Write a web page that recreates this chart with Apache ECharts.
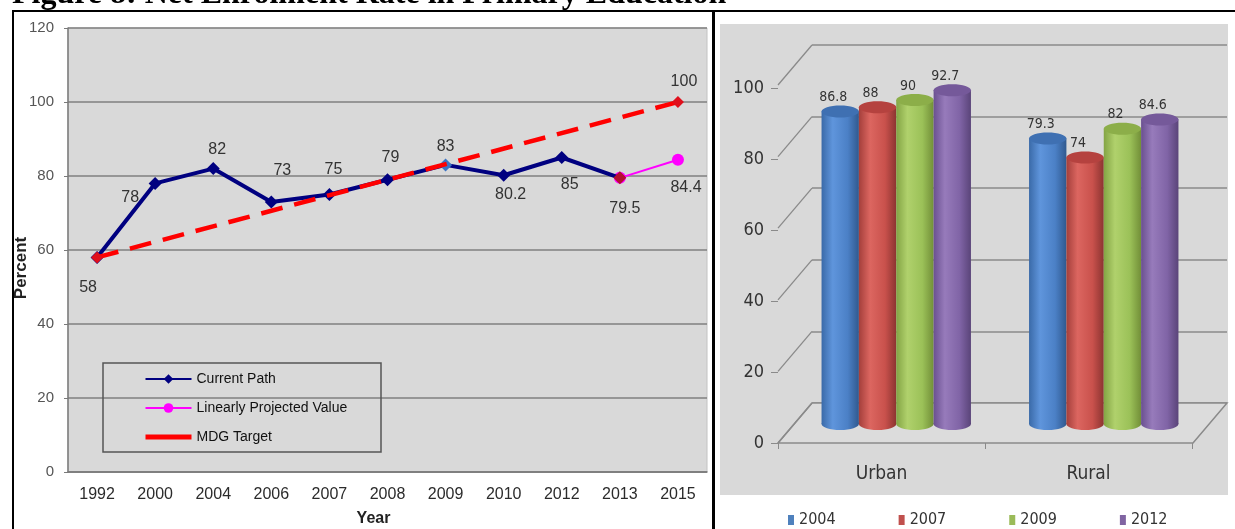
<!DOCTYPE html>
<html>
<head>
<meta charset="utf-8">
<script src="https://cdn.jsdelivr.net/npm/echarts@6/dist/echarts.min.js"></script>
<style>
  html, body { margin: 0; padding: 0; background: #fff; }
  #c { width: 1235px; height: 529px; }
</style>
</head>
<body>
<div id="c"></div>
<script>
// ---- Net enrolment rate, national path (left panel) ----
const years = ['1992', '2000', '2004', '2006', '2007', '2008', '2009', '2010', '2012', '2013', '2015'];
const currentPath = [58, 78, 82, 73, 75, 79, 83, 80.2, 85, 79.5, null];
const projectedValue = [null, null, null, null, null, null, null, null, null, 79.5, 84.4];
const mdgTarget = [58, null, null, null, null, null, null, null, null, null, 100];

// ---- Urban / rural net enrolment by survey year (right panel) ----
const areas = ['Urban', 'Rural'];
const surveyYears = ['2004', '2007', '2009', '2012'];
const rate2004 = [86.8, 79.3];
const rate2007 = [88, 74];
const rate2009 = [90, 82];
const rate2012 = [92.7, 84.6];
const wallTicks = [0, 20, 40, 60, 80, 100];

// ---- styling ----
const sans = '"Liberation Sans", Arial, sans-serif';
const narrow = '"Liberation Sans Narrow", "Arial Narrow", "DejaVu Sans Condensed", sans-serif';
const gridGray = '#8a8a8a';
const depth = [-34, 40];               // perspective shift from back wall to front edge

// label placement around each point of the current path (centre offset, px)
const pathLabelOffset = [[-9, 30], [-25, 14], [4, -19], [11, -31], [4, -25], [3, -22],
                         [0, -18], [7, 19], [8, 27], [5, 31], [0, 0]];
const pathMarkerColor = [null, null, null, null, null, null, '#3b74c4', null, null, '#b4102e', null];

const pathData = currentPath.map((v, i) => {
  const item = { value: v, label: { offset: pathLabelOffset[i] } };
  if (pathMarkerColor[i]) item.itemStyle = { color: pathMarkerColor[i] };
  return item;
});

const shades = [
  { base: '#4f81bd', stops: ['#3a6aa8', '#5f95dc', '#4b80c6', '#30598f'], top: '#3f70b2' },
  { base: '#c0504d', stops: ['#a43f3b', '#dc6660', '#c9514c', '#8c3431'], top: '#b5423f' },
  { base: '#9bbb59', stops: ['#83a444', '#b0d16c', '#9bc158', '#728f38'], top: '#8cae49' },
  { base: '#8064a2', stops: ['#6a5090', '#977bbb', '#8064a6', '#5a4479'], top: '#75599a' }
];

function cylinderSeries(name, values, slot) {
  const sh = shades[slot];
  return {
    type: 'custom',
    name: name,
    xAxisIndex: 3,
    yAxisIndex: 3,
    z: 5,
    color: sh.base,
    itemStyle: { color: sh.base },
    encode: { x: 0, y: 1 },
    data: values.map((v, i) => [i, v]),
    renderItem: function (params, api) {
      const cat = api.value(0);
      const val = api.value(1);
      const base = api.coord([cat, 0]);
      const top = api.coord([cat, val]);
      const band = api.size([1, 0])[0];
      const w = band * 0.18;
      const cx = base[0] + (slot - 1.5) * w;
      const rx = w / 2, ry = 6;
      const grad = new echarts.graphic.LinearGradient(0, 0, 1, 0, [
        { offset: 0, color: sh.stops[0] },
        { offset: 0.3, color: sh.stops[1] },
        { offset: 0.7, color: sh.stops[2] },
        { offset: 1, color: sh.stops[3] }
      ]);
      return {
        type: 'group',
        children: [
          { type: 'rect', shape: { x: cx - rx, y: top[1], width: w, height: base[1] - top[1] }, style: { fill: grad } },
          { type: 'ellipse', shape: { cx: cx, cy: base[1], rx: rx, ry: ry }, style: { fill: grad } },
          { type: 'ellipse', shape: { cx: cx, cy: top[1], rx: rx, ry: ry }, style: { fill: sh.top } },
          { type: 'text', style: { text: String(val), x: cx - 7, y: top[1] - 14, align: 'center', verticalAlign: 'middle',
              font: '14px ' + narrow, fill: '#333' } }
        ]
      };
    }
  };
}

const option = {
  animation: false,
  backgroundColor: '#fff',
  graphic: [
    // figure caption
    { type: 'text', z: 10, style: { text: 'Figure 8: Net Enrolment Rate in Primary Education', x: 12, y: 11,
        align: 'left', verticalAlign: 'bottom', font: 'bold 32px "Liberation Serif", "Times New Roman", serif', fill: '#000' } },
    // frame lines
    { type: 'rect', z: 10, shape: { x: 12, y: 10, width: 1223, height: 2 }, style: { fill: '#000' } },
    { type: 'rect', z: 10, shape: { x: 12, y: 10, width: 2, height: 519 }, style: { fill: '#000' } },
    { type: 'rect', z: 10, shape: { x: 712, y: 10, width: 3, height: 519 }, style: { fill: '#000' } },
    // right chart background
    { type: 'rect', z: -1, shape: { x: 720, y: 24, width: 508, height: 471 }, style: { fill: '#d9d9d9' } },
    // left legend frame
    { type: 'rect', z: 1, shape: { x: 103, y: 363, width: 278, height: 89 }, style: { fill: null, stroke: '#555', lineWidth: 1.5 } }
  ],
  legend: [
    {
      orient: 'vertical', left: 138, top: 367, itemWidth: 46, itemHeight: 12, itemGap: 15,
      textStyle: { fontSize: 14, fontFamily: sans, color: '#111' },
      data: ['Current Path', 'Linearly Projected Value',
             { name: 'MDG Target', lineStyle: { type: 'solid', width: 5 }, itemStyle: { opacity: 0 } }]
    },
    {
      left: 783, top: 507, icon: 'rect', itemWidth: 6, itemHeight: 10, itemGap: 63,
      textStyle: { fontSize: 16, fontFamily: narrow, color: '#333' },
      data: surveyYears
    }
  ],
  grid: [
    { left: 68, top: 28, width: 639, height: 444, show: true, backgroundColor: '#d9d9d9', borderColor: '#c2c2c2', borderWidth: 1, outerBoundsMode: 'none', containLabel: false },
    { left: 778, top: 88, width: 414, height: 355, outerBoundsMode: 'none', containLabel: false },
    { left: 812, top: 45, width: 415, height: 358, outerBoundsMode: 'none', containLabel: false },
    { left: 792.5, top: 64, width: 415, height: 360, outerBoundsMode: 'none', containLabel: false }
  ],
  xAxis: [
    {
      type: 'category', gridIndex: 0, data: years,
      name: 'Year', nameLocation: 'middle', nameGap: 39,
      nameTextStyle: { fontSize: 16, fontWeight: 'bold', fontFamily: sans, color: '#222', padding: [0, 28, 0, 0] },
      axisLine: { lineStyle: { color: '#7a7a7a', width: 1.5 } },
      axisTick: { length: 4, lineStyle: { color: '#7a7a7a' } },
      axisLabel: { fontSize: 16, fontFamily: sans, color: '#2b2b2b', margin: 15 }
    },
    {
      type: 'category', gridIndex: 1, data: areas,
      axisLine: { show: false },
      axisTick: { show: true, length: 6, lineStyle: { color: gridGray } },
      axisLabel: { fontSize: 19, fontFamily: narrow, color: '#333', margin: 22 }
    },
    { type: 'value', gridIndex: 2, min: 0, max: 1, show: false },
    { type: 'category', gridIndex: 3, data: areas, show: false }
  ],
  yAxis: [
    {
      type: 'value', gridIndex: 0, min: 0, max: 120, interval: 20,
      name: 'Percent', nameLocation: 'middle', nameGap: 38, nameRotate: 90, nameMoveOverlap: false,
      nameTextStyle: { fontSize: 17, fontWeight: 'bold', fontFamily: sans, color: '#222', padding: [0, 36, 0, 0] },
      axisLine: { show: true, lineStyle: { color: '#7a7a7a', width: 1.5 } },
      axisTick: { show: true, length: 4, lineStyle: { color: '#7a7a7a' } },
      axisLabel: { fontSize: 15, fontFamily: sans, color: '#555', margin: 14 },
      splitLine: { lineStyle: { color: '#7f7f7f', width: 1.5 } }
    },
    {
      type: 'value', gridIndex: 1, min: 0, max: 100, interval: 20,
      axisLine: { show: false },
      axisTick: { show: true, length: 7, lineStyle: { color: gridGray } },
      axisLabel: { fontSize: 18, fontFamily: narrow, color: '#333', margin: 14 },
      splitLine: { show: false }
    },
    {
      type: 'value', gridIndex: 2, min: 0, max: 100, interval: 20,
      axisLine: { show: false }, axisTick: { show: false }, axisLabel: { show: false },
      splitLine: { lineStyle: { color: gridGray, width: 1.5 } }
    },
    { type: 'value', gridIndex: 3, min: 0, max: 100, show: false }
  ],
  series: [
    {
      name: 'Linearly Projected Value', type: 'line', xAxisIndex: 0, yAxisIndex: 0, z: 2,
      data: projectedValue, symbol: 'circle', symbolSize: 12,
      lineStyle: { color: '#ff00ff', width: 2 }, itemStyle: { color: '#ff00ff' },
      label: {
        show: true, position: 'inside', offset: [8, 28], fontSize: 16, fontFamily: sans, color: '#333',
        formatter: p => (p.dataIndex === projectedValue.length - 1 ? String(p.value) : '')
      }
    },
    {
      name: 'Current Path', type: 'line', xAxisIndex: 0, yAxisIndex: 0, z: 3,
      data: pathData, symbol: 'diamond', symbolSize: 13,
      lineStyle: { color: '#000080', width: 4 }, itemStyle: { color: '#000080' },
      label: { show: true, position: 'inside', fontSize: 16, fontFamily: sans, color: '#333' }
    },
    {
      name: 'MDG Target', type: 'line', xAxisIndex: 0, yAxisIndex: 0, z: 4,
      data: mdgTarget, connectNulls: true, symbol: 'diamond', symbolSize: 12,
      lineStyle: { color: '#ff0000', width: 4.5, type: [22, 12] }, itemStyle: { color: '#e0101c' },
      label: {
        show: true, position: 'inside', offset: [6, -20], fontSize: 16, fontFamily: sans, color: '#333',
        formatter: p => (p.dataIndex === mdgTarget.length - 1 ? String(p.value) : '')
      }
    },
    {
      // floor and receding wall lines of the 3-D frame
      type: 'custom', xAxisIndex: 2, yAxisIndex: 2, z: 1, silent: true,
      data: wallTicks.map(v => [0, v]),
      encode: { x: 0, y: 1 },
      renderItem: function (params, api) {
        const v = api.value(1);
        const b = api.coord([0, v]);
        const f = [b[0] + depth[0], b[1] + depth[1]];
        const children = [];
        if (v === 0) {
          const br = api.coord([1, 0]);
          const fr = [br[0] + depth[0], br[1] + depth[1]];
          children.push({ type: 'polygon', shape: { points: [b, br, fr, f] },
            style: { fill: '#dcdcdc', stroke: gridGray, lineWidth: 1.5 } });
        }
        children.push({ type: 'line', shape: { x1: f[0], y1: f[1], x2: b[0], y2: b[1] },
          style: { stroke: gridGray, lineWidth: 1.3 } });
        return { type: 'group', children: children };
      }
    },
    cylinderSeries('2004', rate2004, 0),
    cylinderSeries('2007', rate2007, 1),
    cylinderSeries('2009', rate2009, 2),
    cylinderSeries('2012', rate2012, 3)
  ]
};

const chart = echarts.init(document.getElementById('c'));
chart.setOption(option);
</script>
</body>
</html>
